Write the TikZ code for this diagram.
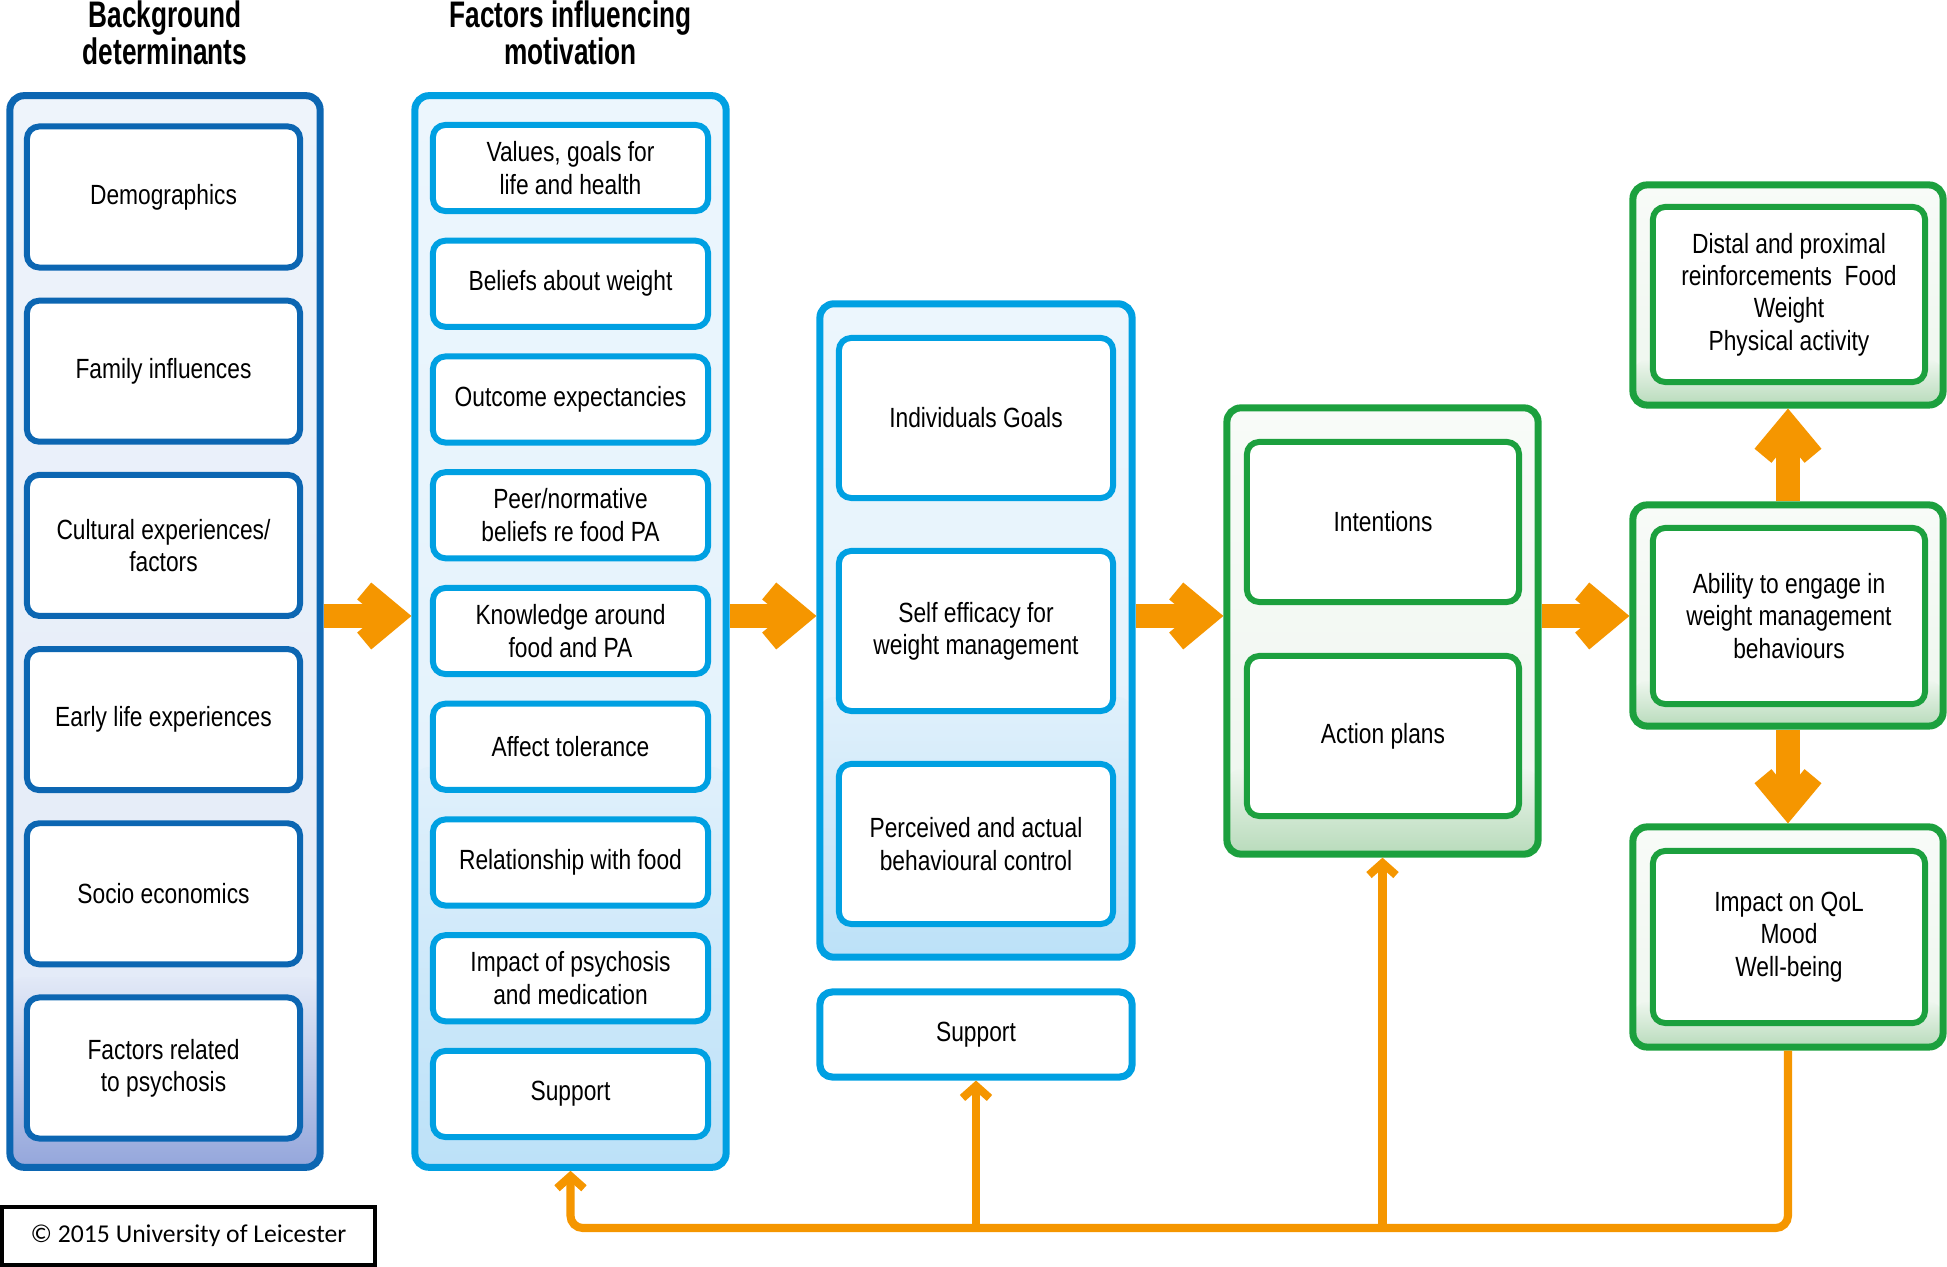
\documentclass[tikz,border=0pt]{standalone}
\usepackage{fontspec}
\setmainfont{Liberation Sans}[FakeStretch=0.82]
\newfontfamily\headfont{Liberation Sans}[FakeStretch=0.71]
\newfontfamily\copyfont{Carlito}
\usetikzlibrary{arrows.meta,positioning}

\definecolor{bgblue}{RGB}{12,102,178}
\definecolor{mtblue}{RGB}{0,160,226}
\definecolor{boxgreen}{RGB}{28,160,62}
\definecolor{arrorange}{RGB}{245,150,0}
\definecolor{bgtop}{RGB}{238,244,251}
\definecolor{bgmid}{RGB}{226,233,247}
\definecolor{bgbot}{RGB}{148,166,219}
\definecolor{mttop}{RGB}{236,246,253}
\definecolor{mtmid}{RGB}{224,240,251}
\definecolor{mtbot}{RGB}{188,225,248}
\definecolor{gntop}{RGB}{248,251,248}
\definecolor{gnmid}{RGB}{238,246,238}
\definecolor{gnbot}{RGB}{184,219,187}

\tikzset{
  fade/.style n args={4}{path picture={
    \shade[top color=#1, bottom color=#2] (path picture bounding box.south west)
      rectangle (path picture bounding box.north east);
    \shade[top color=#2, bottom color=#3] (path picture bounding box.south west)
      rectangle ([yshift=#4]path picture bounding box.south east);}},
  head/.style={align=center, font=\headfont\bfseries\fontsize{10.5}{10.5}\selectfont, inner sep=0pt},
  outer/.style={rounded corners=4pt, line width=2pt, inner sep=0pt},
  item/.style={rounded corners=3.5pt, line width=1.7pt, fill=white, align=center, inner sep=0pt,
    font=\fontsize{7.9}{9.2}\selectfont},
  bgcol/.style={outer, draw=bgblue, minimum width=3.1cm},
  mtcol/.style={outer, draw=mtblue},
  gncol/.style={outer, draw=boxgreen, minimum width=3.1cm},
  bgitem/.style={item, draw=bgblue, minimum width=2.73cm, minimum height=1.41cm},
  mtitem/.style={item, draw=mtblue},
  gnitem/.style={item, draw=boxgreen, minimum width=2.72cm},
  fat/.style={draw=arrorange, line width=0.24cm,
    -{Straight Barb[length=0.3cm, width=0.5cm, line width=0.22cm]}},
  feed/.style={draw=arrorange, line width=2.3pt,
    -{Straight Barb[length=0.12cm, width=0.27cm, line width=2.3pt]}},
  copybox/.style={draw=black, line width=1.1pt, minimum width=3.72cm, minimum height=0.58cm,
    font=\copyfont\fontsize{7.3}{8.5}\selectfont}
}

\begin{document}
\begin{tikzpicture}[x=0.01cm, y=-0.01cm]
\useasboundingbox (0,0) rectangle (1947,1267);
% Headings
\node[head] (h1) at (165,33) {Background\\determinants};
\node[head] (h2) at (570.5,33) {Factors influencing\\motivation};
% Background determinants
\node[bgcol, fade={bgtop}{bgmid}{bgbot}{1.9cm}, minimum height=10.71cm] (c1) at (165,631.5) {};
\foreach \t [count=\i from 0] in {Demographics, Family influences, {Cultural experiences/\\factors},
    Early life experiences, Socio economics, {Factors related\\to psychosis}}
  \node[bgitem] (b\i) at (163.5,197+174.2*\i) {\t};
% Factors influencing motivation
\node[mtcol, fade={mttop}{mtmid}{mtbot}{4cm}, minimum width=3.11cm, minimum height=10.71cm] (c2)
  at (570.5,631.5) {};
\foreach \t [count=\i from 0] in {{Values, goals for\\life and health}, Beliefs about weight,
    Outcome expectancies, {Peer/normative\\beliefs re food PA}, {Knowledge around\\food and PA},
    Affect tolerance, Relationship with food, {Impact of psychosis\\and medication}, Support}
  \node[mtitem, minimum width=2.75cm, minimum height=0.86cm] (m\i) at (570.5,168+115.75*\i) {\t};
% Goals and control
\node[mtcol, fade={mttop}{mtmid}{mtbot}{2.6cm}, minimum width=3.12cm, minimum height=6.53cm] (c3)
  at (976,630.5) {};
\foreach \t [count=\i from 0] in {Individuals Goals, {Self efficacy for\\weight management},
    {Perceived and actual\\behavioural control}}
  \node[mtitem, minimum width=2.74cm, minimum height=1.6cm] (g\i) at (976,418+213*\i) {\t};
\node[mtitem, line width=2pt, minimum width=3.12cm, minimum height=0.85cm] (sup) at (976,1034.5) {Support};
% Intentions
\node[gncol, fade={gntop}{gnmid}{gnbot}{0.85cm}, minimum width=3.11cm, minimum height=4.46cm] (c4)
  at (1382.5,631) {};
\node[gnitem, minimum height=1.6cm] (int) at (1383,522) {Intentions};
\node[gnitem, minimum height=1.6cm] (act) at (1383,736) {Action plans};
% Outcomes
\node[gncol, fade={gntop}{gnmid}{gnbot}{0.45cm}, minimum height=2.2cm] (dist) at (1788,295) {};
\node[gnitem, minimum height=1.75cm] (rein) at (1789,294.5)
  {Distal and proximal\\reinforcements\ \ Food\\Weight\\Physical activity};
\node[gncol, fade={gntop}{gnmid}{gnbot}{0.45cm}, minimum height=2.21cm] (ab) at (1788,615.5) {};
\node[gnitem, minimum height=1.76cm] (abil) at (1789,616)
  {Ability to engage in\\weight management\\behaviours};
\node[gncol, fade={gntop}{gnmid}{gnbot}{0.45cm}, minimum height=2.2cm] (imp) at (1788,937) {};
\node[gnitem, minimum height=1.72cm] (qol) at (1789,937) {Impact on QoL\\Mood\\Well-being};
% Main arrows
\coordinate (ay) at (0,616);
\foreach \a/\b in {c1/c2,c2/c3,c3/c4,c4/ab}
  \draw[fat] (\a.east |- ay) -- (\b.west |- ay);
\draw[fat] (ab.north) -- (dist.south);
\draw[fat] (ab.south) -- (imp.north);
% Feedback
\coordinate (fb) at (0,1228);
\draw[feed, rounded corners=3.5pt] (imp.south) |- (c2.south |- fb) -- (c2.south);
\draw[feed] (sup.south |- fb) -- (sup.south);
\draw[feed] (c4.south |- fb) -- (c4.south);
% Copyright
\node[copybox] (copy) at (188.5,1236) {© 2015 University of Leicester};
\end{tikzpicture}
\end{document}
